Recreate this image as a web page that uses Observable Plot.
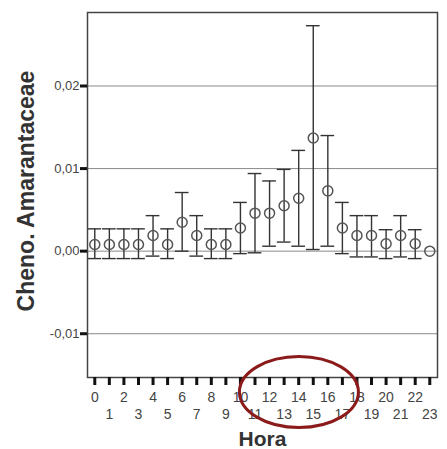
<!DOCTYPE html>
<html>
<head>
<meta charset="utf-8">
<script src="https://cdn.jsdelivr.net/npm/d3@7"></script>
<script src="https://cdn.jsdelivr.net/npm/@observablehq/plot@0.6"></script>
<style>
  html, body { margin: 0; padding: 0; background: #fff; }
  #chart { width: 447px; height: 449px; }
</style>
</head>
<body>
<div id="chart"></div>
<script>
const hours = [0,1,2,3,4,5,6,7,8,9,10,11,12,13,14,15,16,17,18,19,20,21,22,23];
const means = [0.0008,0.0008,0.0008,0.0008,0.0019,0.0008,0.0035,0.0019,0.0008,0.0008,0.0028,0.0046,0.0046,0.0055,0.0064,0.0137,0.0073,0.0028,0.0019,0.0019,0.0009,0.0019,0.0009,0.0];
const uppers = [0.0027,0.0027,0.0027,0.0027,0.0043,0.0027,0.0071,0.0043,0.0027,0.0027,0.0059,0.0094,0.0085,0.0099,0.0122,0.0273,0.0140,0.0059,0.0043,0.0043,0.0026,0.0043,0.0026,null];
const lowers = [-0.0009,-0.0009,-0.0009,-0.0009,-0.0006,-0.0009,0.0,-0.0006,-0.0009,-0.0009,-0.0003,-0.0002,0.0006,0.0011,0.0006,0.0002,0.0006,-0.0003,-0.0007,-0.0007,-0.0009,-0.0007,-0.0009,null];
const yTicks = [-0.01, 0, 0.01, 0.02];
const evenHours = hours.filter(h => h % 2 === 0);
const oddHours = hours.filter(h => h % 2 === 1);
const xTitle = "Hora";
const yTitle = "Cheno. Amarantaceae";

const data = hours.map((h, i) => ({hour: h, mean: means[i], upper: uppers[i], lower: lowers[i]}));
const bars = data.filter(d => d.upper != null);
const capHalf = 0.47;
const fmt = d => d.toFixed(2).replace(".", ",");

const plot = Plot.plot({
  width: 447,
  height: 449,
  marginLeft: 87,
  marginRight: 10,
  marginTop: 12,
  marginBottom: 72,
  style: {fontFamily: "'Liberation Sans', Arial, sans-serif", background: "#fff"},
  x: {type: "linear", domain: [-0.5, 23.53]},
  y: {domain: [-0.0153, 0.0289]},
  marks: [
    Plot.gridY(yTicks, {stroke: "#8a8a8a", strokeOpacity: 1, strokeWidth: 1}),
    Plot.frame({stroke: "#444", strokeWidth: 1.5}),
    Plot.axisY({ticks: yTicks, tickSize: 7, tickPadding: 1, stroke: "#111", strokeWidth: 3, tickFormat: fmt, fontSize: 13, fill: "#444", label: null}),
    Plot.axisX({ticks: hours, tickSize: 8, stroke: "#111", strokeWidth: 3, tickFormat: () => "", label: null}),
    Plot.axisX({ticks: evenHours, tickSize: 0, tickPadding: 14.7, tickFormat: d => String(d), fontSize: 14, fill: "#444", label: null}),
    Plot.axisX({ticks: oddHours, tickSize: 0, tickPadding: 31.3, tickFormat: d => String(d), fontSize: 14, fill: "#444", label: null}),
    Plot.ruleX(bars, {x: "hour", y1: "lower", y2: "upper", stroke: "#333", strokeWidth: 1.4}),
    Plot.ruleY(bars, {y: "upper", x1: d => d.hour - capHalf, x2: d => d.hour + capHalf, stroke: "#333", strokeWidth: 1.4}),
    Plot.ruleY(bars, {y: "lower", x1: d => d.hour - capHalf, x2: d => d.hour + capHalf, stroke: "#333", strokeWidth: 1.4}),
    Plot.dot(data, {x: "hour", y: "mean", r: 5, stroke: "#555", strokeWidth: 1.5, fill: "none"}),
    Plot.text([xTitle], {frameAnchor: "bottom", dy: 61.5, lineAnchor: "middle", textAnchor: "middle", text: d => d, fontSize: 21, fontWeight: "bold", fill: "#333"}),
    Plot.text([yTitle], {frameAnchor: "left", dx: -61, dy: -4, rotate: -90, lineAnchor: "middle", textAnchor: "middle", text: d => d, fontSize: 23, fontWeight: "bold", fill: "#333"})
  ]
});

// annotation ellipse around hours 11-17 labels
const xs = plot.scale("x");
const svg = d3.select(plot);
svg.append("ellipse")
  .attr("cx", xs.apply(14.05))
  .attr("cy", 449 - 72 + 15)
  .attr("rx", 59.5)
  .attr("ry", 35.5)
  .attr("fill", "none")
  .attr("stroke", "#8b1a1a")
  .attr("stroke-width", 3);

document.getElementById("chart").appendChild(plot);
</script>
</body>
</html>
